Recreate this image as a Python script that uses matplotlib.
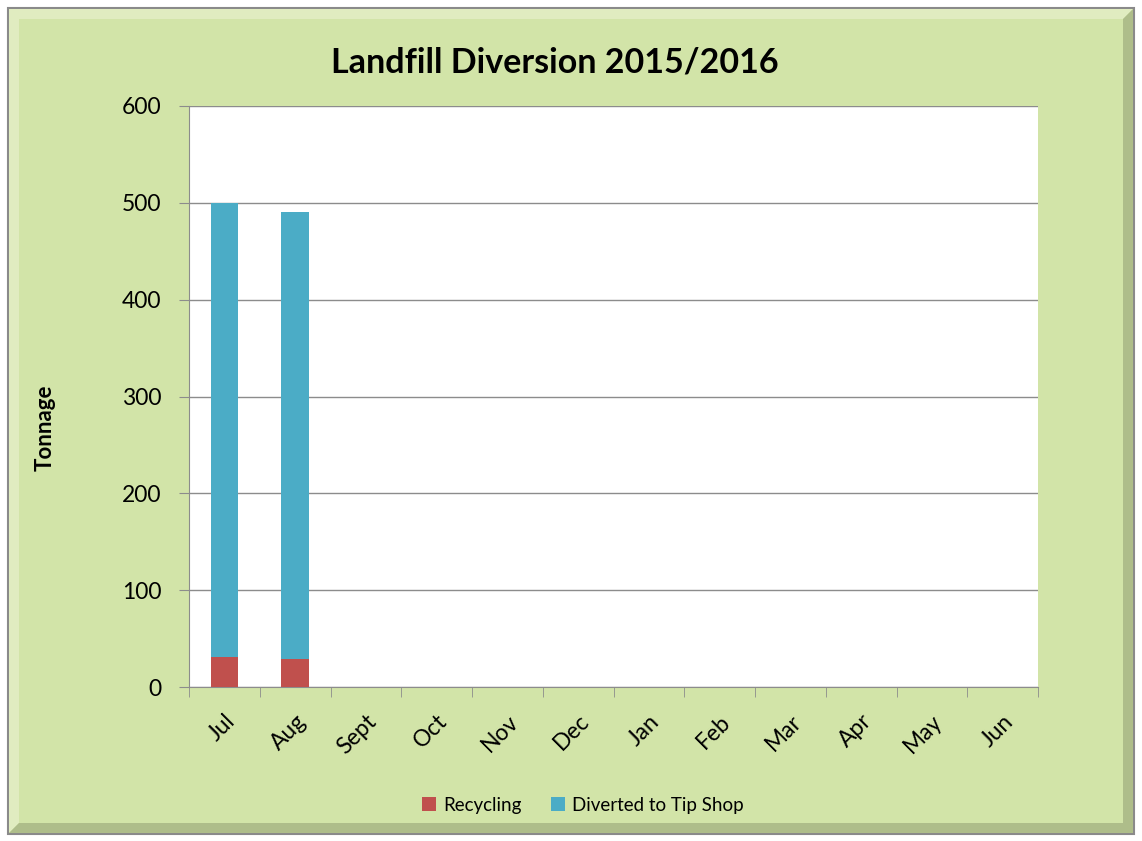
import matplotlib.pyplot as plt
from matplotlib.patches import Rectangle, Polygon
import numpy as np

plt.rcParams['font.family'] = ['Lato', 'DejaVu Sans']

# data
months = ['Jul', 'Aug', 'Sept', 'Oct', 'Nov', 'Dec', 'Jan', 'Feb', 'Mar', 'Apr', 'May', 'Jun']
recycling = [31, 29, 0, 0, 0, 0, 0, 0, 0, 0, 0, 0]
tip_shop = [469, 462, 0, 0, 0, 0, 0, 0, 0, 0, 0, 0]

bg = '#D2E4A8'
fig = plt.figure(figsize=(11.42, 8.41), dpi=100)
fig.patch.set_facecolor('white')

# frame with bevel
W, H = 1142, 841
def fx(px):
    return px / W
def fy(py):
    return 1 - py / H

fig.patches.append(Rectangle((fx(8), fy(834)), fx(1134) - fx(8), fy(8) - fy(834),
                             transform=fig.transFigure, facecolor=bg,
                             edgecolor='#8a8a8a', lw=1.5, zorder=-10))
b = 10
# top/left light bevel
fig.patches.append(Polygon([(fx(9), fy(9)), (fx(1133), fy(9)), (fx(1133 - b), fy(9 + b)),
                            (fx(9 + b), fy(9 + b)), (fx(9 + b), fy(833 - b)), (fx(9), fy(833))],
                           closed=True, transform=fig.transFigure,
                           facecolor='#e0ecc0', edgecolor='none', zorder=-9))
# bottom/right dark bevel
fig.patches.append(Polygon([(fx(1133), fy(9)), (fx(1133), fy(833)), (fx(9), fy(833)),
                            (fx(9 + b), fy(833 - b)), (fx(1133 - b), fy(833 - b)),
                            (fx(1133 - b), fy(9 + b))],
                           closed=True, transform=fig.transFigure,
                           facecolor='#aebd8a', edgecolor='none', zorder=-9))

ax = fig.add_axes([189 / W, 1 - 687 / H, (1038 - 189) / W, (687 - 106) / H])
ax.set_facecolor('white')

x = np.arange(len(months))
ax.bar(x, recycling, width=0.39, color='#C0504D', label='Recycling', zorder=3)
ax.bar(x, tip_shop, width=0.39, bottom=recycling, color='#4BACC6',
       label='Diverted to Tip Shop', zorder=3)

ax.set_xlim(-0.5, len(months) - 0.5)
ax.set_ylim(0, 600)
ax.set_yticks(range(0, 601, 100))
ax.grid(axis='y', color='#8c8c8c', lw=1, zorder=0)

ax.set_xticks(x)
ax.set_xticklabels(months, rotation=45, ha='right', va='top', rotation_mode='anchor', fontsize=16.5)
ax.tick_params(axis='x', length=0, pad=17)
ax.set_xticks(np.arange(-0.5, len(months)), minor=True)
ax.tick_params(axis='x', which='minor', length=7, color='#8c8c8c', direction='out')
ax.tick_params(axis='y', labelsize=16.5, length=7, color='#8c8c8c', pad=13)

for s in ['top', 'right']:
    ax.spines[s].set_visible(False)
for s in ['left', 'bottom']:
    ax.spines[s].set_color('#8c8c8c')

fig.text(45 / W, 1 - 428 / H, 'Tonnage', rotation=90, ha='center', va='center',
         fontsize=16, fontweight='bold')
fig.text(555 / W, 1 - 63 / H, 'Landfill Diversion 2015/2016', ha='center', va='center',
         fontsize=24.5, fontweight='bold')

fig.legend(loc='center', bbox_to_anchor=(583 / W, 1 - 805 / H), ncol=2, frameon=False,
           fontsize=13.5, handlelength=0.7, handleheight=0.7, handletextpad=0.4,
           columnspacing=1.6)

fig.savefig('out.png', dpi=100, facecolor=fig.get_facecolor())
